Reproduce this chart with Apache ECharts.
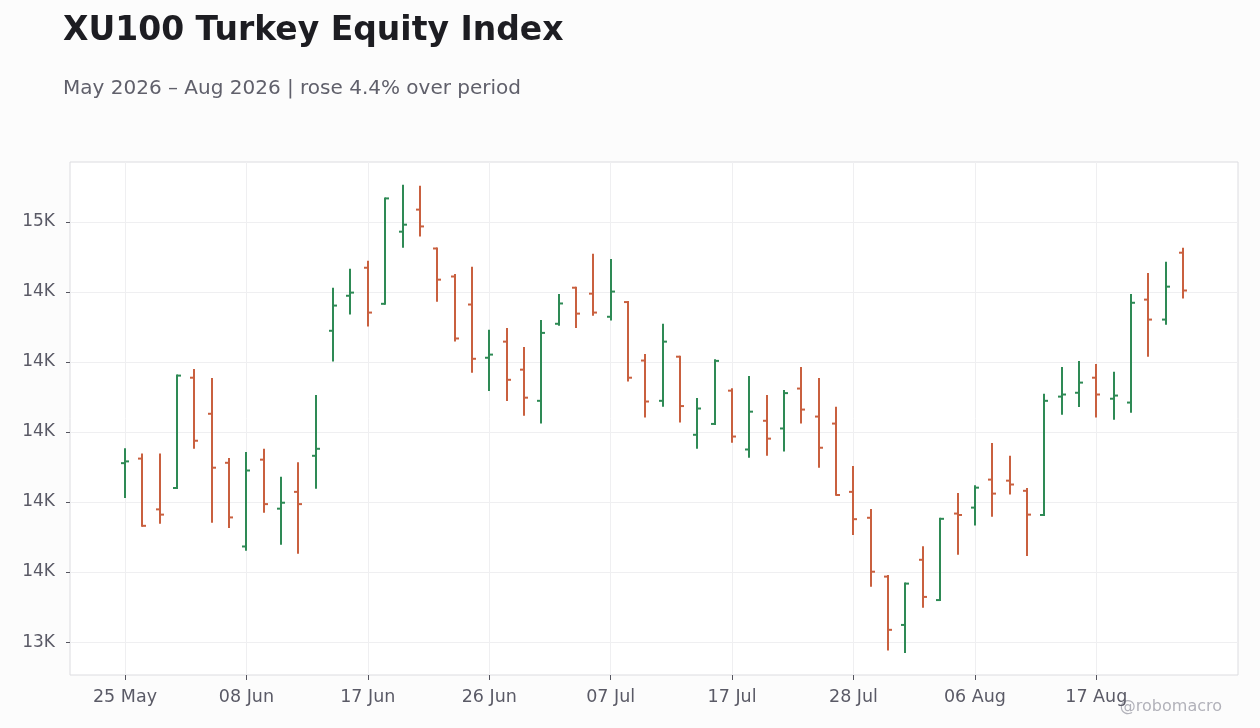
<!DOCTYPE html>
<html>
<head>
<meta charset="utf-8">
<title>XU100 Turkey Equity Index</title>
<script src="https://cdn.jsdelivr.net/npm/echarts@6/dist/echarts.min.js"></script>
<style>
  html, body { margin: 0; padding: 0; background: #fcfcfc; }
  #chart { width: 1260px; height: 728px; }
</style>
</head>
<body>
<div id="chart"></div>
<script>
// trading days shown on the chart
var dates = [
  '2026-05-25', '2026-05-27', '2026-05-28', '2026-06-01', '2026-06-02', '2026-06-03', '2026-06-05',
  '2026-06-08', '2026-06-09', '2026-06-10', '2026-06-11', '2026-06-12', '2026-06-15', '2026-06-16',
  '2026-06-17', '2026-06-18', '2026-06-19', '2026-06-22', '2026-06-23', '2026-06-24', '2026-06-25',
  '2026-06-26', '2026-06-29', '2026-06-30', '2026-07-01', '2026-07-02', '2026-07-03', '2026-07-06',
  '2026-07-07', '2026-07-08', '2026-07-09', '2026-07-10', '2026-07-13', '2026-07-14', '2026-07-16',
  '2026-07-17', '2026-07-20', '2026-07-21', '2026-07-22', '2026-07-23', '2026-07-24', '2026-07-27',
  '2026-07-28', '2026-07-29', '2026-07-30', '2026-07-31', '2026-08-03', '2026-08-04', '2026-08-05',
  '2026-08-06', '2026-08-07', '2026-08-10', '2026-08-11', '2026-08-12', '2026-08-13', '2026-08-14',
  '2026-08-17', '2026-08-18', '2026-08-19', '2026-08-20', '2026-08-21', '2026-08-24'
];

var opens = [
  13911, 13924, 13779, 13840, 14155, 14052, 13912, 13673, 13921, 13781, 13829,
  13932, 14289, 14389, 14469, 14366, 14572, 14635, 14524, 14444, 14364,
  14212, 14258, 14178, 14089, 14309, 14412, 14395, 14329, 14371, 14204,
  14089, 14215, 13992, 14023, 14118, 13950, 14032, 14010, 14124, 14044,
  14024, 13829, 13755, 13587, 13449, 13635, 13520, 13767, 13784, 13864,
  13861, 13832, 13763, 14101, 14112, 14155, 14095, 14084, 14378, 14321, 14512
];
var highs = [
  13951, 13936, 13936, 14161, 14177, 14151, 13923, 13940, 13949, 13869, 13911,
  14103, 14409, 14463, 14486, 14667, 14703, 14700, 14524, 14448, 14469,
  14289, 14294, 14240, 14317, 14391, 14412, 14506, 14491, 14371, 14220,
  14306, 14215, 14094, 14205, 14122, 14157, 14103, 14117, 14183, 14151,
  14069, 13900, 13777, 13589, 13567, 13671, 13752, 13823, 13845, 13966,
  13929, 13837, 14106, 14183, 14200, 14191, 14169, 14391, 14451, 14483, 14523
];
var lows = [
  13814, 13732, 13741, 13840, 13955, 13744, 13729, 13664, 13772, 13681, 13655,
  13841, 14204, 14338, 14304, 14366, 14529, 14561, 14375, 14261, 14172,
  14120, 14091, 14049, 14027, 14306, 14300, 14335, 14321, 14147, 14044,
  14075, 14030, 13955, 14023, 13972, 13929, 13935, 13947, 14027, 13901,
  13821, 13709, 13561, 13379, 13372, 13501, 13520, 13652, 13736, 13761,
  13824, 13649, 13763, 14052, 14074, 14044, 14038, 14058, 14218, 14309, 14384
];
var closes = [
  13916, 13732, 13764, 14161, 13975, 13898, 13756, 13890, 13794, 13798, 13794,
  13952, 14361, 14398, 14341, 14667, 14592, 14587, 14435, 14267, 14209,
  14221, 14149, 14098, 14283, 14367, 14338, 14341, 14401, 14155, 14087,
  14258, 14074, 14067, 14203, 13987, 14058, 13981, 14111, 14064, 13955,
  13820, 13751, 13601, 13435, 13567, 13529, 13752, 13763, 13841, 13824,
  13850, 13764, 14089, 14107, 14141, 14107, 14104, 14369, 14321, 14415, 14404
];

// axis ticks
var xTickIdx = [0, 7, 14, 21, 28, 35, 42, 49, 56];
var yTicks = [13400, 13600, 13800, 14000, 14200, 14400, 14600];

var UP = '#2e8a55';
var DOWN = '#c9603f';
var FONT = 'DejaVu Sans';
var MONTHS = ['Jan', 'Feb', 'Mar', 'Apr', 'May', 'Jun', 'Jul', 'Aug', 'Sep', 'Oct', 'Nov', 'Dec'];

function fmtDate(s) {
  var p = s.split('-');
  return p[2] + ' ' + MONTHS[parseInt(p[1], 10) - 1];
}

var ohlc = dates.map(function (d, i) {
  return [i, opens[i], highs[i], lows[i], closes[i]];
});

function renderBar(params, api) {
  var i = api.value(0);
  var o = api.coord([i, api.value(1)]);
  var h = api.coord([i, api.value(2)]);
  var l = api.coord([i, api.value(3)]);
  var c = api.coord([i, api.value(4)]);
  var color = api.value(4) >= api.value(1) ? UP : DOWN;
  var x = Math.round(h[0]);
  var st = { stroke: color, lineWidth: 2 };
  return {
    type: 'group',
    children: [
      { type: 'line', shape: { x1: x, y1: h[1] - 1, x2: x, y2: l[1] + 1 }, style: st },
      { type: 'line', shape: { x1: x - 4, y1: o[1], x2: x, y2: o[1] }, style: st },
      { type: 'line', shape: { x1: x, y1: c[1], x2: x + 4, y2: c[1] }, style: st }
    ]
  };
}

var myChart = echarts.init(document.getElementById('chart'));
var option = {
  backgroundColor: '#fcfcfc',
  animation: false,
  textStyle: { fontFamily: FONT },
  title: [
    {
      text: 'XU100 Turkey Equity Index',
      left: 58, top: 10,
      textStyle: { fontFamily: FONT, fontSize: 33, fontWeight: 'bold', color: '#1d1d22' }
    },
    {
      text: 'May 2026 \u2013 Aug 2026 | rose 4.4% over period',
      left: 58, top: 74,
      textStyle: { fontFamily: FONT, fontSize: 20, fontWeight: 'normal', color: '#60606b' }
    }
  ],
  grid: {
    left: 70, right: 22, top: 162, bottom: 53,
    show: true, backgroundColor: '#ffffff', borderColor: '#dcdce0', borderWidth: 1
  },
  xAxis: {
    type: 'value',
    min: -3.17, max: 64.17,
    axisLine: { show: false, onZero: false },
    axisTick: { show: true, length: 5, lineStyle: { color: '#55555f' }, customValues: xTickIdx },
    axisLabel: {
      customValues: xTickIdx, margin: 13,
      fontFamily: FONT, fontSize: 17.5, color: '#5a5a66',
      formatter: function (v) { return fmtDate(dates[Math.round(v)]); }
    },
    splitLine: { show: true, lineStyle: { color: '#efeff1', width: 1 } }
  },
  yAxis: {
    type: 'value',
    min: 13306, max: 14771,
    axisLine: { show: false, onZero: false },
    axisTick: { show: true, length: 4, lineStyle: { color: '#55555f' }, customValues: yTicks },
    axisLabel: {
      customValues: yTicks, margin: 15,
      fontFamily: FONT, fontSize: 17, color: '#5a5a66',
      formatter: function (v) { return (v / 1000).toFixed(0) + 'K'; }
    },
    splitLine: { show: true, lineStyle: { color: '#efeff1', width: 1 } }
  },
  graphic: [
    {
      type: 'text', right: 38, bottom: 13,
      style: { text: '@robomacro', fontFamily: FONT, fontSize: 16, fill: '#b2b2ba' }
    }
  ],
  series: [
    {
      type: 'custom',
      renderItem: renderBar,
      encode: { x: 0, y: [1, 2, 3, 4] },
      data: ohlc
    }
  ]
};

myChart.setOption(option);
</script>
</body>
</html>
